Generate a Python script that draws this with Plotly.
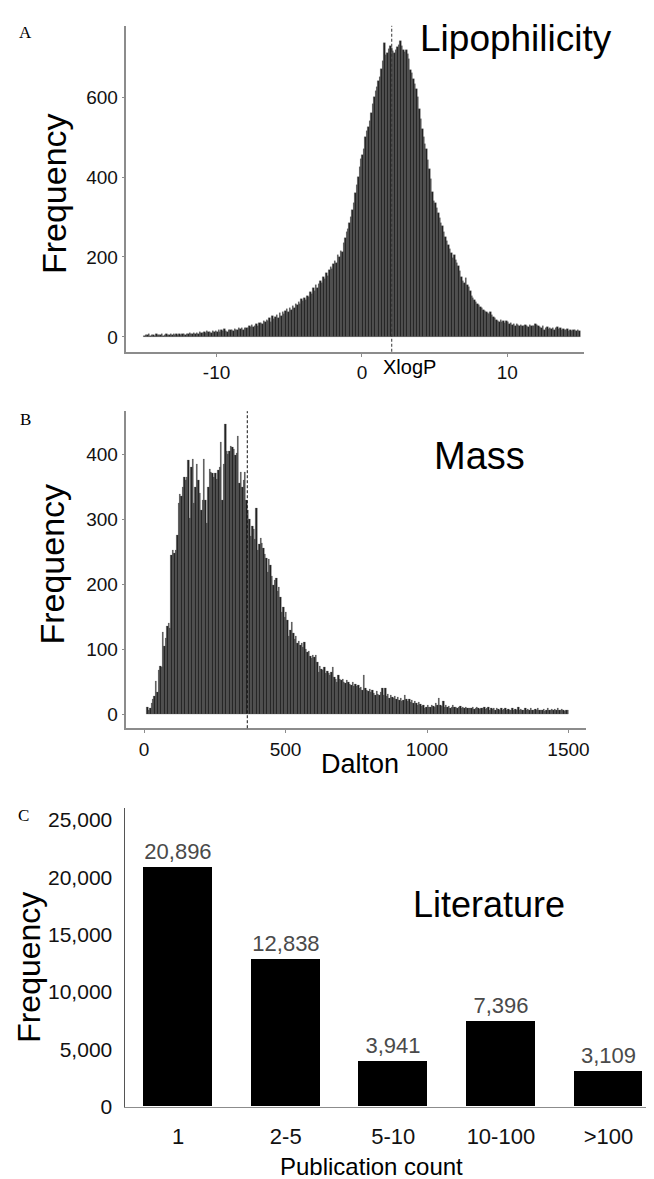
import plotly.graph_objects as go

W, H = 654, 1179
FONT = "Liberation Sans, Arial, sans-serif"
SERIF = "Liberation Serif, Times New Roman, serif"

# ---------------- Panel A: XlogP histogram (bin width 0.1 from -15 to 15) ----------------
xlogp_bin_start = -15.0
xlogp_bin_width = 0.1
xlogp_counts = [
    4, 6, 5, 7, 3, 6, 5, 4, 7, 5,            # -15 .. -14
    6, 5, 7, 4, 6, 8, 5, 6, 7, 5,            # -14 .. -13
    7, 6, 8, 5, 9, 6, 7, 8, 6, 9,            # -13 .. -12
    8, 10, 7, 9, 11, 8, 10, 9, 12, 10,       # -12 .. -11
    11, 13, 10, 15, 12, 14, 11, 16, 13, 15,  # -11 .. -10
    14, 17, 13, 18, 15, 20, 16, 14, 19, 17,  # -10 .. -9
    18, 16, 21, 19, 17, 22, 20, 24, 19, 23,  # -9 .. -8
    24, 22, 27, 25, 30, 26, 29, 33, 28, 35,  # -8 .. -7
    36, 33, 40, 38, 44, 41, 47, 39, 52, 45,  # -7 .. -6
    50, 56, 48, 60, 54, 63, 58, 66, 70, 62,  # -6 .. -5
    72, 68, 78, 74, 84, 80, 88, 83, 95, 90,  # -5 .. -4
    98, 94, 104, 100, 112, 108, 122, 116, 130, 124,   # -4 .. -3
    134, 140, 136, 150, 146, 160, 152, 168, 175, 170, # -3 .. -2
    182, 190, 186, 205, 200, 215, 212, 235, 248, 262, # -2 .. -1
    270, 285, 300, 318, 335, 360, 380, 400, 425, 445, # -1 .. 0
    455, 470, 500, 516, 525, 540, 560, 583, 600, 615, # 0 .. 1
    625, 640, 650, 670, 690, 736, 705, 711, 720, 727, # 1 .. 2
    722, 716, 710, 719, 725, 731, 740, 728, 719, 712, # 2 .. 3
    718, 707, 695, 669, 660, 645, 632, 620, 600, 570, # 3 .. 4
    545, 521, 500, 483, 470, 442, 420, 395, 362, 340, # 4 .. 5
    335, 322, 310, 298, 285, 277, 262, 250, 240, 231, # 5 .. 6
    220, 210, 198, 205, 192, 186, 178, 165, 150, 140, # 6 .. 7
    136, 149, 130, 125, 115, 103, 98, 92, 88, 83,     # 7 .. 8
    80, 76, 72, 69, 66, 63, 60, 58, 62, 55,           # 8 .. 9
    50, 47, 44, 40, 37, 42, 38, 41, 36, 40,           # 9 .. 10
    38, 34, 36, 31, 33, 29, 32, 30, 28, 31,           # 10 .. 11
    29, 27, 31, 28, 26, 30, 27, 29, 28, 32,           # 11 .. 12
    30, 28, 26, 24, 27, 18, 22, 25, 20, 23,           # 12 .. 13
    21, 24, 19, 22, 25, 20, 23, 18, 21, 19,           # 13 .. 14
    17, 20, 16, 19, 15, 18, 17, 16, 19, 15,           # 14 .. 15
]
xlogp_mean = 2.05
xlogp_ticks = [-10, 0, 10]
xlogp_tick_labels = ["-10", "0", "10"]
freq_ticks_a = [0, 200, 400, 600]

# ---------------- Panel B: mass histogram (bin width 5 Da from 10 to 1500) ----------------
mass_bin_start = 10
mass_bin_width = 5
mass_counts = [
    12, 6, 10, 17, 24, 28, 51, 35,                     # 10 .. 50
    68, 75, 72, 126, 105, 118, 136, 141, 132, 245,     # 50 .. 100
    253, 248, 253, 276, 324, 339, 335, 350, 364, 360,  # 100 .. 150
    365, 390, 301, 380, 392, 324, 350, 385, 360, 340,  # 150 .. 200
    314, 330, 392, 329, 294, 350, 377, 372, 370, 365,  # 200 .. 250
    370, 362, 375, 380, 418, 329, 385, 446, 405, 400,  # 250 .. 300
    405, 413, 410, 408, 398, 402, 428, 355, 372, 350,  # 300 .. 350
    360, 372, 330, 314, 300, 274, 290, 284, 270, 317,  # 350 .. 400
    253, 262, 271, 263, 256, 246, 240, 218, 238, 230,  # 400 .. 450
    213, 198, 207, 210, 190, 195, 180, 157, 165, 150,  # 450 .. 500
    157, 145, 121, 130, 142, 125, 116, 120, 109, 112,  # 500 .. 550
    106, 110, 104, 111, 100, 96, 98, 90, 86, 91,       # 550 .. 600
    88, 91, 80, 65, 75, 70, 68, 72, 63, 66,            # 600 .. 650
    63, 60, 65, 73, 58, 55, 50, 60, 55, 52,            # 650 .. 700
    55, 50, 48, 52, 50, 47, 45, 50, 43, 46,            # 700 .. 750
    43, 45, 40, 42, 38, 61, 40, 38, 36, 39,            # 750 .. 800
    35, 38, 33, 30, 36, 32, 30, 34, 40, 30,            # 800 .. 850
    40, 28, 32, 25, 30, 27, 25, 28, 24, 26,            # 850 .. 900
    22, 25, 20, 22, 30, 24, 21, 23, 19, 22,            # 900 .. 950
    17, 20, 18, 15, 19, 16, 13, 14, 10, 12,            # 950 .. 1000
    14, 12, 11, 15, 13, 12, 17, 14, 25, 15,            # 1000 .. 1050
    13, 20, 12, 14, 11, 13, 10, 12, 14, 11,            # 1050 .. 1100
    12, 10, 11, 13, 9, 12, 10, 11, 9, 10,              # 1100 .. 1150
    10, 9, 11, 8, 10, 12, 9, 8, 10, 9,                 # 1150 .. 1200
    11, 8, 9, 12, 7, 9, 8, 10, 7, 9,                   # 1200 .. 1250
    8, 7, 9, 6, 8, 10, 7, 8, 6, 7,                     # 1250 .. 1300
    9, 7, 8, 6, 11, 7, 8, 6, 7, 9,                     # 1300 .. 1350
    6, 8, 7, 9, 6, 7, 8, 6, 10, 7,                     # 1350 .. 1400
    7, 6, 8, 5, 7, 9, 6, 7, 8, 6,                      # 1400 .. 1450
    8, 6, 9, 7, 6, 8, 7, 5, 7, 6,                      # 1450 .. 1500
]
mass_mean = 365
mass_ticks = [0, 500, 1000, 1500]
freq_ticks_b = [0, 100, 200, 300, 400]

# ---------------- Panel C: literature counts ----------------
pub_categories = ["1", "2-5", "5-10", "10-100", ">100"]
pub_counts = [20896, 12838, 3941, 7396, 3109]
freq_ticks_c = [0, 5000, 10000, 15000, 20000, 25000]


def px(x):
    return x / W


def py(y):
    return 1 - y / H


xlogp_centers = [xlogp_bin_start + xlogp_bin_width * (i + 0.5) for i in range(len(xlogp_counts))]
mass_centers = [mass_bin_start + mass_bin_width * (i + 0.5) for i in range(len(mass_counts))]

BAR_FILL = "#1e1e1e"
BAR_EDGE = "#6a6a6a"
AX_GRAY = "#8c8c8c"

fig = go.Figure()
fig.add_trace(go.Bar(x=xlogp_centers, y=xlogp_counts, width=xlogp_bin_width,
                     marker=dict(color=BAR_FILL, line=dict(color=BAR_EDGE, width=0.3)),
                     xaxis="x", yaxis="y", showlegend=False))
fig.add_trace(go.Bar(x=mass_centers, y=mass_counts, width=mass_bin_width,
                     marker=dict(color=BAR_FILL, line=dict(color=BAR_EDGE, width=0.3)),
                     xaxis="x2", yaxis="y2", showlegend=False))
fig.add_trace(go.Bar(x=pub_categories, y=pub_counts, width=0.64,
                     marker=dict(color="black", line=dict(width=0)),
                     texttemplate="%{y:,}", textposition="outside", cliponaxis=False,
                     textfont=dict(family=FONT, size=22, color="#4a4a4a"),
                     xaxis="x3", yaxis="y3", showlegend=False))

hist_axis = dict(showline=True, linecolor=AX_GRAY, linewidth=1.5, ticks="outside",
                 ticklen=3, tickcolor=AX_GRAY, showgrid=False, zeroline=False,
                 tickfont=dict(family=FONT, size=19, color="#111111"))

fig.update_layout(
    width=W, height=H, margin=dict(l=0, r=0, t=0, b=0),
    paper_bgcolor="white", plot_bgcolor="white", bargap=0,
    xaxis=dict(domain=[px(119), px(579)], range=[-16.2, 15.3], tickvals=xlogp_ticks,
               ticktext=xlogp_tick_labels, anchor="y", **hist_axis),
    yaxis=dict(domain=[py(347), py(18)], range=[-37, 778], tickvals=freq_ticks_a,
               anchor="x", **hist_axis),
    xaxis2=dict(domain=[px(119), px(581)], range=[-62, 1563], tickvals=mass_ticks,
                anchor="y2", **hist_axis),
    yaxis2=dict(domain=[py(727), py(407)], range=[-21, 466], tickvals=freq_ticks_b,
                anchor="x2", **hist_axis),
    xaxis3=dict(domain=[px(118), 1.0], range=[-0.49, 4.47], anchor="y3",
                showline=True, linecolor="#8c8c8c", linewidth=1, ticks="",
                showgrid=False, zeroline=False, ticklabelstandoff=10,
                tickfont=dict(family=FONT, size=22, color="#111111")),
    yaxis3=dict(domain=[py(1109), py(808)], range=[0, 26000], tickvals=freq_ticks_c,
                tickformat=",", anchor="x3", showline=True, linecolor="#555555",
                linewidth=1, ticks="", showgrid=False, zeroline=False,
                ticklabelstandoff=8,
                tickfont=dict(family=FONT, size=21, color="#111111")),
)

# dashed mean lines
fig.add_shape(type="line", xref="x", yref="y domain", x0=xlogp_mean, x1=xlogp_mean,
              y0=0, y1=1, line=dict(color="#333333", width=1, dash="3px,2px"))
fig.add_shape(type="line", xref="x2", yref="y2 domain", x0=mass_mean, x1=mass_mean,
              y0=0, y1=1, line=dict(color="#111111", width=1, dash="3px,2px"))


def note(text, x, y, size, family=FONT, angle=0, color="black", xanchor="center"):
    fig.add_annotation(text=text, xref="paper", yref="paper", x=px(x), y=py(y),
                       xanchor=xanchor, yanchor="middle", showarrow=False,
                       textangle=angle, font=dict(family=family, size=size, color=color))


# panel letters
note("A", 18, 25, 17, SERIF)
note("B", 18, 415, 17, SERIF)
note("C", 16, 815, 17, SERIF)

# panel titles
note("Lipophilicity", 510, 31, 37)
note("Mass", 474, 452, 38)
note("Literature", 483, 905, 36)

# axis titles
note("Frequency", 46, 187, 34, angle=-90)
note("Frequency", 44, 561, 34, angle=-90)
note("Frequency", 21, 968, 32, angle=-90)
note("XlogP", 403, 362, 20)
note("Dalton", 354, 763, 27)
note("Publication count", 365, 1169, 24)

fig.write_html("out.html")
